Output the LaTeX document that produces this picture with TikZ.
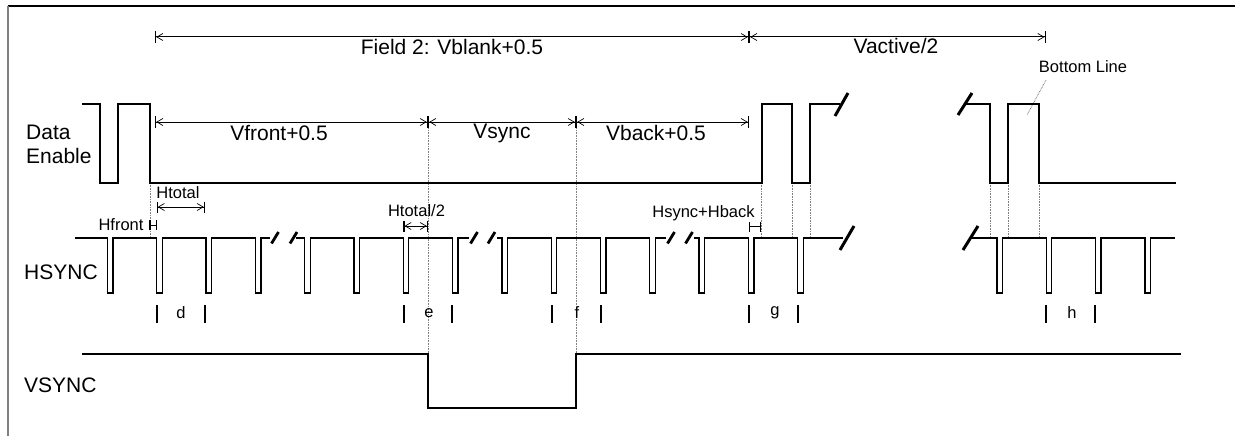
\documentclass[tikz,border=0pt]{standalone}
\usepackage{fontspec}
\setmainfont{Liberation Sans}
\usetikzlibrary{arrows.meta}
\begin{document}
\begin{tikzpicture}[x=1pt,y=-1pt,
  wave/.style={line width=1.3pt, line join=miter},
  brk/.style={line width=2.8pt},
  brkbig/.style={line width=3pt},
  guide/.style={gray, line width=0.8pt, dash pattern=on 0.8pt off 0.8pt},
  dimline/.style={line width=1pt,
    {Bar[width=12pt,line width=1.2pt]Straight Barb[length=6pt,width=7pt,line width=0.7pt]}-{Straight Barb[length=6pt,width=7pt,line width=0.7pt]Bar[width=12pt,line width=1.2pt]}},
  dimsmall/.style={line width=1pt,
    {Bar[width=11pt,line width=1.2pt]Straight Barb[length=6pt,width=7pt,line width=0.7pt]}-{Straight Barb[length=6pt,width=7pt,line width=0.7pt]Bar[width=11pt,line width=1.2pt]}},
  hmark/.style={line width=1pt, {Bar[width=10pt,line width=1.2pt]}-{Bar[width=10pt,line width=1.2pt]}},
  tickm/.style={line width=1.3pt},
  big/.style={font=\fontsize{21}{25}\selectfont, inner sep=0pt},
  small/.style={font=\fontsize{16.5}{19}\selectfont, inner sep=0pt}
]
\useasboundingbox (0,0) rectangle (1235,436);

% frame
\draw[line width=1.3pt] (8,6) -- (1235,6);
\draw[gray, line width=1.7pt] (8,6) -- (8,436);

% signal labels
\node[big, anchor=west] (lData) at (26,132) {Data};
\node[big, anchor=west] (lEnable) at (26,156) {Enable};
\node[big, anchor=west] (lHs) at (24,272) {HSYNC};
\node[big, anchor=west] (lVs) at (24,385) {VSYNC};

% dimension coordinates
\coordinate (fA) at (155,37);
\coordinate (fB) at (749,37);
\coordinate (fC) at (1045.7,37);
\coordinate (vA) at (155,122);
\coordinate (vB) at (428,122);
\coordinate (vC) at (576,122);
\coordinate (vD) at (749,122);
\coordinate (htA) at (156.5,207);
\coordinate (htB) at (205,207);
\coordinate (hhA) at (403.3,226);
\coordinate (hhB) at (428,226);
\coordinate (hfA) at (149.3,225);
\coordinate (hfB) at (156.7,225);
\coordinate (hbA) at (749,226.5);
\coordinate (hbB) at (761,226.5);

% guide lines (grey dotted)
\coordinate (g1a) at (150,183);   \coordinate (g1b) at (150,238);
\coordinate (g2a) at (428,122);   \coordinate (g2b) at (428,354);
\coordinate (g3a) at (576,122);   \coordinate (g3b) at (576,354);
\coordinate (g4a) at (761.5,183); \coordinate (g4b) at (761.5,238);
\coordinate (g5a) at (792,183);   \coordinate (g5b) at (792,238);
\coordinate (g6a) at (810.5,183); \coordinate (g6b) at (810.5,238);
\coordinate (g7a) at (990,183);   \coordinate (g7b) at (990,238);
\coordinate (g8a) at (1008,183);  \coordinate (g8b) at (1008,238);
\coordinate (g9a) at (1039,183);  \coordinate (g9b) at (1039,238);
\foreach \i in {1,...,9} { \draw[guide] (g\i a) -- (g\i b); }

% dimension lines
\draw[dimline] (fA) -- (fB);
\draw[dimline] (fB) -- (fC);
\draw[dimline] (vA) -- (vB);
\draw[dimline] (vB) -- (vC);
\draw[dimline] (vC) -- (vD);
\draw[dimsmall] (htA) -- (htB);
\draw[dimsmall] (hhA) -- (hhB);
\draw[hmark] (hfA) -- (hfB);
\draw[hmark] (hbA) -- (hbB);

% dimension labels
\node[big] (tField) at (452,46.5) {Field 2: Vblank+0.5};
\node[big] (tVact) at (896,46) {Vactive/2};
\node[big] (tVfront) at (279,133) {Vfront+0.5};
\node[big] (tVsync) at (502,133) {Vsync};
\node[big] (tVback) at (656,133) {Vback+0.5};
\node[small] (tHtotal) at (178,193) {Htotal};
\node[small] (tHhalf) at (416.5,211) {Htotal/2};
\node[small] (tHfront) at (121,225) {Hfront};
\node[small] (tHback) at (703.5,213) {Hsync+Hback};

% Bottom line callout
\node[small] (tBottom) at (1083,67) {Bottom Line};
\coordinate (bl1) at (1046,80);
\coordinate (bl2) at (1027,115);
\draw[guide] (bl1) -- (bl2);

% Data Enable waveform
\draw[wave] (82,104) -- (100,104) -- (100,183) -- (118,183) -- (118,104) -- (150,104) -- (150,183)
  -- (762,183) -- (762,104) -- (792,104) -- (792,183) -- (810,183) -- (810,104) -- (840,104);
\draw[wave] (966,104) -- (990,104) -- (990,183) -- (1008,183) -- (1008,104) -- (1039,104) -- (1039,183) -- (1176,183);
\draw[brkbig] (835,116) -- (848,93);
\draw[brkbig] (958,115) -- (972,93);

% HSYNC waveform
\draw[wave] (75,238) foreach \x in {107.5,156.8,206.1,255.4} { -- (\x,238) -- (\x,293) -- (\x+5.5,293) -- (\x+5.5,238) } -- (270,238);
\draw[wave] (296,238) foreach \x in {304.7,354,403.3,452.6} { -- (\x,238) -- (\x,293) -- (\x+5.5,293) -- (\x+5.5,238) } -- (469,238);
\draw[wave] (497,238) foreach \x in {501.9,551.2,600.5,649.8} { -- (\x,238) -- (\x,293) -- (\x+5.5,293) -- (\x+5.5,238) } -- (666,238);
\draw[wave] (694,238) foreach \x in {699.1,748.4,797.7} { -- (\x,238) -- (\x,293) -- (\x+5.5,293) -- (\x+5.5,238) } -- (843,238);
\draw[wave] (970,238) foreach \x in {997,1046.3,1095.6,1144.9} { -- (\x,238) -- (\x,293) -- (\x+5.5,293) -- (\x+5.5,238) } -- (1175,238);
\foreach \c in {275,293.5,474,491.5,671,689} { \draw[brk] (\c-3.5,243.5) -- (\c+3.5,232); }
\draw[brkbig] (840,250) -- (854,226);
\draw[brkbig] (963,250) -- (978,226);

% interval ticks and letters
\foreach \a/\b/\l/\n in {157/205/d/181, 404/452/e/429, 552/601/f/577, 749/798/g/775, 1046/1095/h/1072} {
  \draw[tickm] (\a,305) -- (\a,323);
  \draw[tickm] (\b,305) -- (\b,323);
  \node[small] (lt\l) at (\n,313) {\l};
}

% VSYNC waveform
\draw[wave] (82,354) -- (428,354) -- (428,408) -- (576,408) -- (576,354) -- (1181,354);
\end{tikzpicture}
\end{document}
